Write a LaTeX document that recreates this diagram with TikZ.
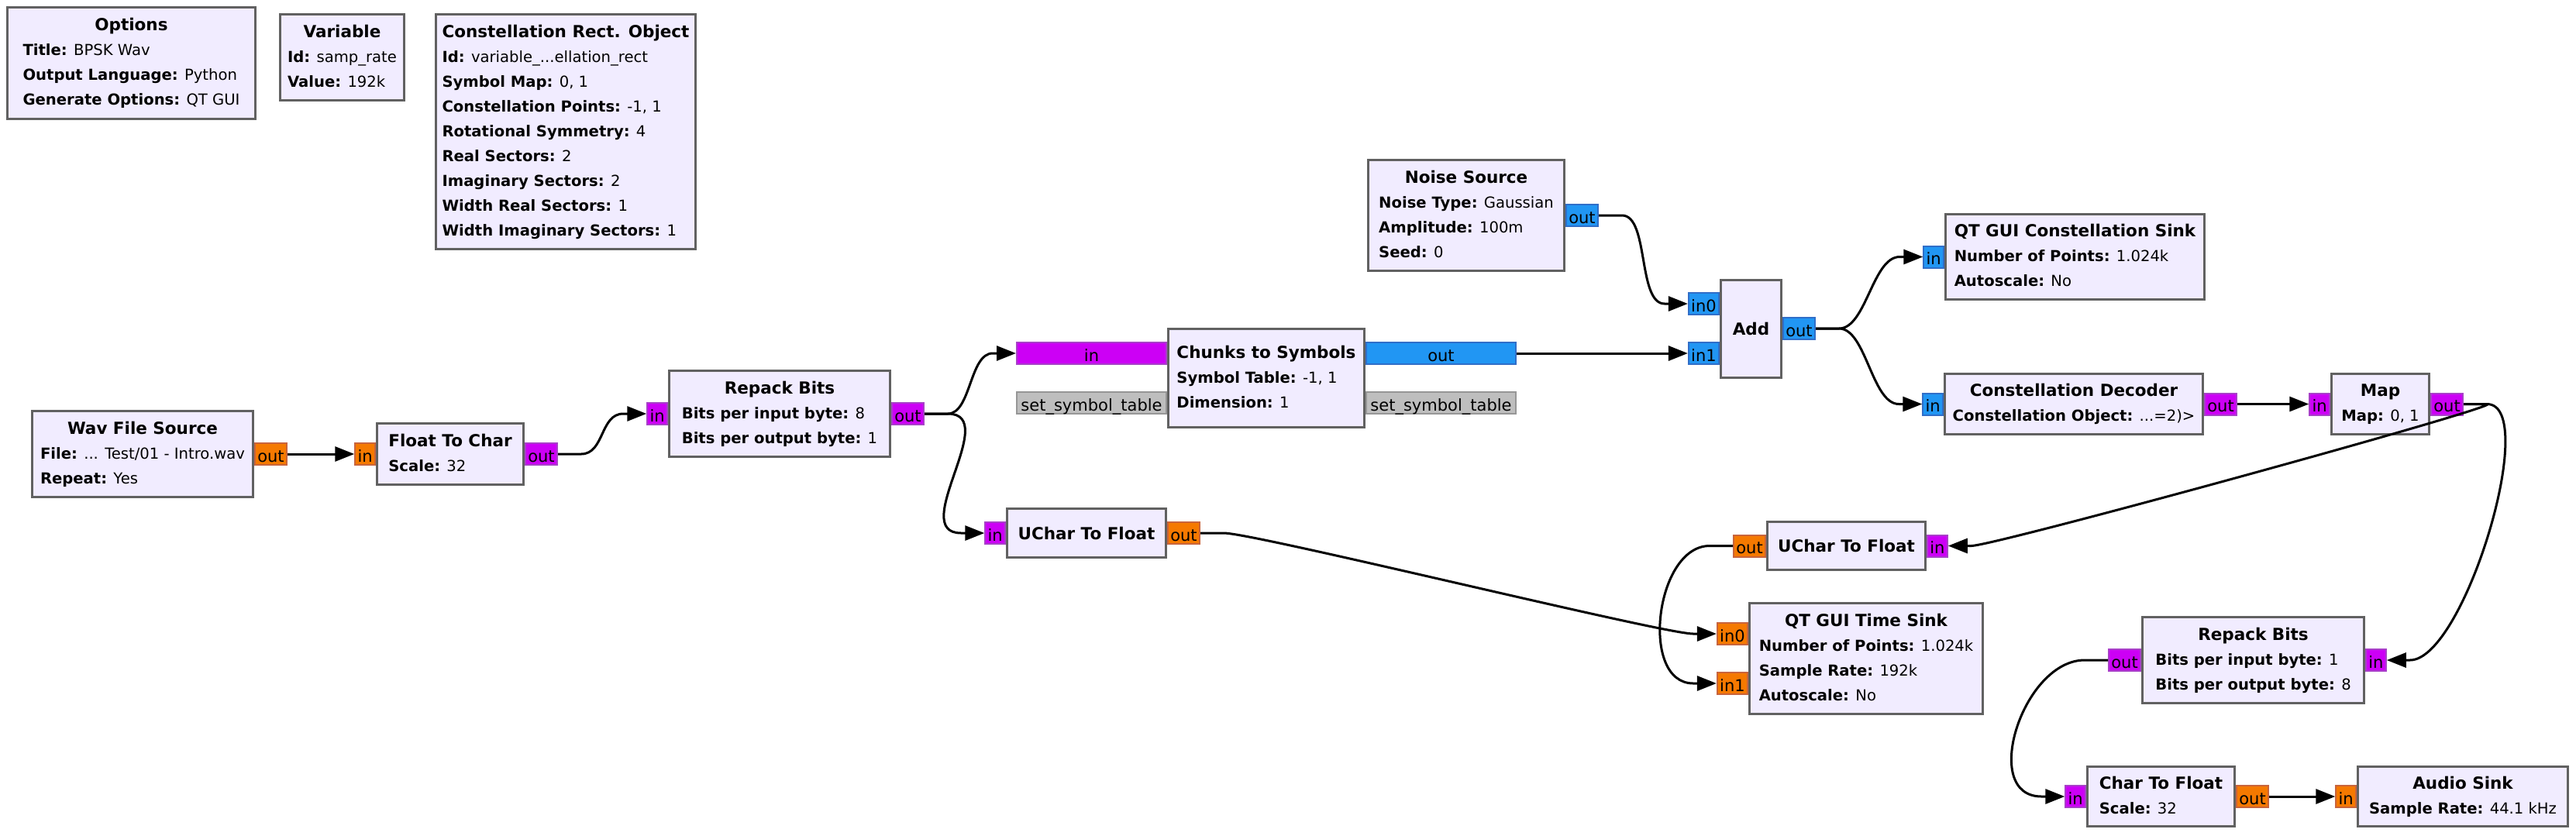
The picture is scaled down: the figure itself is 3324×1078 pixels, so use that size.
\documentclass[tikz,border=0pt]{standalone}
\usepackage{fontspec}
\setmainfont{DejaVu Sans}
\usetikzlibrary{arrows.meta,calc,positioning}

\definecolor{blkfill}{RGB}{241,236,255}
\definecolor{blkline}{RGB}{97,97,97}
\definecolor{fltfill}{RGB}{245,121,0}
\definecolor{fltline}{RGB}{200,100,60}
\definecolor{bytfill}{RGB}{204,0,245}
\definecolor{bytline}{RGB}{168,64,200}
\definecolor{cpxfill}{RGB}{33,150,243}
\definecolor{cpxline}{RGB}{48,110,200}
\definecolor{msgfill}{RGB}{190,190,190}
\definecolor{msgline}{RGB}{150,150,150}

\newcommand{\blktitle}{\fontsize{10.75}{16}\selectfont\bfseries}
\newcommand{\blkbody}[2]{\begin{tabular}{@{}l@{}}\multicolumn{1}{@{}c@{}}{\blktitle #1}\\ #2\end{tabular}}

\begin{document}
\begin{tikzpicture}[x=0.5pt,y=-0.5pt,
		blk/.style={draw=blkline,fill=blkfill,line width=1.5pt,inner sep=0pt,font=\fontsize{9.8}{16}\selectfont},
		port/.style={line width=1pt,inner xsep=1.65pt,inner ysep=0pt,minimum height=14pt,text height=10pt,text depth=0pt,font=\fontsize{10.5}{12}\selectfont},
		fport/.style={port,draw=fltline,fill=fltfill},
		bport/.style={port,draw=bytline,fill=bytfill},
		cport/.style={port,draw=cpxline,fill=cpxfill},
		mport/.style={port,draw=msgline,fill=msgfill},
		wire/.style={line width=1.5pt,-{Triangle[length=12.5pt,width=9.5pt]}}]
			\useasboundingbox (0,0) rectangle (3324,1078);
			\node[blk,minimum width=160pt,minimum height=72pt] (opts) at (169.5,81.5) {\blkbody{Options}{\textbf{Title:} BPSK Wav\\ \textbf{Output Language:} Python\\ \textbf{Generate Options:} QT GUI}};
			\node[blk,minimum width=80pt,minimum height=55.5pt] (samp_rate) at (441.5,74) {\blkbody{Variable}{\textbf{Id:} samp\_rate\\ \textbf{Value:} 192k}};
			\node[blk,minimum width=167.5pt,minimum height=151.5pt] (const_obj) at (730,170) {\blkbody{Constellation Rect. Object}{\textbf{Id:} variable\_...ellation\_rect\\ \textbf{Symbol Map:} 0, 1\\ \textbf{Constellation Points:} -1, 1\\ \textbf{Rotational Symmetry:} 4\\ \textbf{Real Sectors:} 2\\ \textbf{Imaginary Sectors:} 2\\ \textbf{Width Real Sectors:} 1\\ \textbf{Width Imaginary Sectors:} 1}};
			\node[blk,minimum width=142.5pt,minimum height=55.5pt] (wav_src) at (184,586) {\blkbody{Wav File Source}{\textbf{File:} ... Test/01 - Intro.wav\\ \textbf{Repeat:} Yes}};
			\node[blk,minimum width=94.5pt,minimum height=39.5pt] (f2c) at (581,586) {\blkbody{Float To Char}{\textbf{Scale:} 32}};
			\node[blk,minimum width=142.5pt,minimum height=55.5pt] (repack_1) at (1006,534) {\blkbody{Repack Bits}{\textbf{Bits per input byte:} 8\\ \textbf{Bits per output byte:} 1}};
			\node[blk,minimum width=126.5pt,minimum height=63.5pt] (chunks) at (1634,488) {\blkbody{Chunks to Symbols}{\textbf{Symbol Table:} -1, 1\\ \textbf{Dimension:} 1}};
			\node[blk,minimum width=126.5pt,minimum height=71.5pt] (noise) at (1892,278) {\blkbody{Noise Source}{\textbf{Noise Type:} Gaussian\\ \textbf{Amplitude:} 100m\\ \textbf{Seed:} 0}};
			\node[blk,minimum width=39pt,minimum height=63pt] (add) at (2259.5,424) {\blktitle Add};
			\node[blk,minimum width=167pt,minimum height=55pt] (const_sink) at (2677.5,331.5) {\blkbody{QT GUI Constellation Sink}{\textbf{Number of Points:} 1.024k\\ \textbf{Autoscale:} No}};
			\node[blk,minimum width=166.5pt,minimum height=39pt] (const_dec) at (2676,521.5) {\blkbody{Constellation Decoder}{\textbf{Constellation Object:} ...=2)>}};
			\node[blk,minimum width=63pt,minimum height=39pt] (map) at (3071.5,521.5) {\blkbody{Map}{\textbf{Map:} 0, 1}};
			\node[blk,minimum width=102.5pt,minimum height=31.5pt] (uc2f_1) at (1402,688) {\blktitle UChar To Float};
			\node[blk,minimum width=102pt,minimum height=31pt] (uc2f_2) at (2382.5,704.5) {\blktitle UChar To Float};
			\node[blk,minimum width=150.5pt,minimum height=71.5pt] (time_sink) at (2408,850) {\blkbody{QT GUI Time Sink}{\textbf{Number of Points:} 1.024k\\ \textbf{Sample Rate:} 192k\\ \textbf{Autoscale:} No}};
			\node[blk,minimum width=143pt,minimum height=55.5pt] (repack_2) at (2907.5,852) {\blkbody{Repack Bits}{\textbf{Bits per input byte:} 1\\ \textbf{Bits per output byte:} 8}};
			\node[blk,minimum width=95pt,minimum height=38.5pt] (c2f) at (2788.5,1028) {\blkbody{Char To Float}{\textbf{Scale:} 32}};
			\node[blk,minimum width=135.5pt,minimum height=38.5pt] (audio) at (3178,1028) {\blkbody{Audio Sink}{\textbf{Sample Rate:} 44.1 kHz}};
			\node[fport,right=0pt of wav_src] (wav_out) {out};
			\node[fport,left=0pt of f2c] (f2c_in) {in};
			\node[bport,right=0pt of f2c] (f2c_out) {out};
			\node[bport,left=0pt of repack_1] (rep1_in) {in};
			\node[bport,right=0pt of repack_1] (rep1_out) {out};
			\node[bport,minimum width=96.5pt,left=0pt of chunks,yshift=16pt] (chk_in) {in};
			\node[cport,minimum width=96.5pt,right=0pt of chunks,yshift=16pt] (chk_out) {out};
			\node[mport,minimum width=96.5pt,left=0pt of chunks,yshift=-16pt] (chk_msg_in) {set\_symbol\_table};
			\node[mport,minimum width=96.5pt,right=0pt of chunks,yshift=-16pt] (chk_msg_out) {set\_symbol\_table};
			\node[cport,right=0pt of noise] (noise_out) {out};
			\node[cport,left=0pt of add,yshift=16pt] (add_in0) {in0};
			\node[cport,left=0pt of add,yshift=-16pt] (add_in1) {in1};
			\node[cport,right=0pt of add] (add_out) {out};
			\node[cport,left=0pt of const_sink] (csink_in) {in};
			\node[cport,left=0pt of const_dec] (cdec_in) {in};
			\node[bport,right=0pt of const_dec] (cdec_out) {out};
			\node[bport,left=0pt of map] (map_in) {in};
			\node[bport,right=0pt of map] (map_out) {out};
			\node[bport,left=0pt of uc2f_1] (uc1_in) {in};
			\node[fport,right=0pt of uc2f_1] (uc1_out) {out};
			\node[fport,left=0pt of uc2f_2] (uc2_out) {out};
			\node[bport,right=0pt of uc2f_2] (uc2_in) {in};
			\node[fport,left=0pt of time_sink,yshift=16pt] (ts_in0) {in0};
			\node[fport,left=0pt of time_sink,yshift=-16pt] (ts_in1) {in1};
			\node[bport,left=0pt of repack_2] (rep2_out) {out};
			\node[bport,right=0pt of repack_2] (rep2_in) {in};
			\node[bport,left=0pt of c2f] (c2f_in) {in};
			\node[fport,right=0pt of c2f] (c2f_out) {out};
			\node[fport,left=0pt of audio] (audio_in) {in};
			\path[wire]
				(wav_out) edge (f2c_in)
				(chk_out) edge (add_in1)
				(cdec_out) edge (map_in)
				(c2f_out) edge (audio_in);
			\draw[wire] (f2c_out.east) -- ++(30,0) .. controls +(30,0) and +(-30,0) .. ($(rep1_in.west)+(-30,0)$) -- (rep1_in.west);
			\draw[wire] (rep1_out.east) -- ++(30,0) .. controls +(30,0) and +(-30,0) .. ($(chk_in.west)+(-30,0)$) -- (chk_in.west);
			\draw[wire] (rep1_out.east) -- ++(30,0) .. controls +(70,0) and +(-70,0) .. ($(uc1_in.west)+(-30,0)$) -- (uc1_in.west);
			\draw[wire] (noise_out.east) -- ++(30,0) .. controls +(35,0) and +(-35,0) .. ($(add_in0.west)+(-30,0)$) -- (add_in0.west);
			\draw[wire] (add_out.east) -- ++(30,0) .. controls +(35,0) and +(-35,0) .. ($(csink_in.west)+(-30,0)$) -- (csink_in.west);
			\draw[wire] (add_out.east) -- ++(30,0) .. controls +(35,0) and +(-35,0) .. ($(cdec_in.west)+(-30,0)$) -- (cdec_in.west);
			\draw[wire] (map_out.east) -- ++(30,0) .. controls +(30,0) and +(30,0) .. ($(uc2_in.east)+(30,0)$) -- (uc2_in.east);
			\draw[wire] (map_out.east) -- ++(30,0) .. controls +(70,0) and +(70,0) .. ($(rep2_in.east)+(30,0)$) -- (rep2_in.east);
			\draw[wire] (uc1_out.east) -- ++(30,0) .. controls +(40,0) and +(-40,0) .. ($(ts_in0.west)+(-30,0)$) -- (ts_in0.west);
			\draw[wire] (uc2_out.west) -- ++(-30,0) .. controls +(-70,0) and +(-70,0) .. ($(ts_in1.west)+(-30,0)$) -- (ts_in1.west);
			\draw[wire] (rep2_out.west) -- ++(-30,0) .. controls +(-80,0) and +(-80,0) .. ($(c2f_in.west)+(-30,0)$) -- (c2f_in.west);
		\end{tikzpicture}
\end{document}
